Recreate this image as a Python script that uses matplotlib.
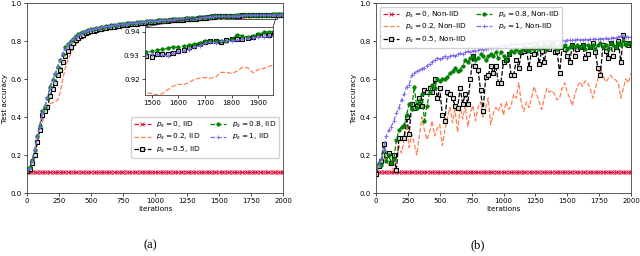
import matplotlib
matplotlib.use("Agg")
import matplotlib.pyplot as plt
from mpl_toolkits.axes_grid1.inset_locator import mark_inset

iterations = list(range(0, 2001, 20))

# ---------------- IID ----------------
acc_ps0_iid = [
    0.113, 0.113, 0.113, 0.113, 0.113, 0.113, 0.113, 0.113, 0.113, 0.113,
    0.113, 0.113, 0.113, 0.113, 0.113, 0.113, 0.113, 0.113, 0.113, 0.113,
    0.113, 0.113, 0.113, 0.113, 0.113, 0.113, 0.113, 0.113, 0.113, 0.113,
    0.113, 0.113, 0.113, 0.113, 0.113, 0.113, 0.113, 0.113, 0.113, 0.113,
    0.113, 0.113, 0.113, 0.113, 0.113, 0.113, 0.113, 0.113, 0.113, 0.113,
    0.113, 0.113, 0.113, 0.113, 0.113, 0.113, 0.113, 0.113, 0.113, 0.113,
    0.113, 0.113, 0.113, 0.113, 0.113, 0.113, 0.113, 0.113, 0.113, 0.113,
    0.113, 0.113, 0.113, 0.113, 0.113, 0.113, 0.113, 0.113, 0.113, 0.113,
    0.113, 0.113, 0.113, 0.113, 0.113, 0.113, 0.113, 0.113, 0.113, 0.113,
    0.113, 0.113, 0.113, 0.113, 0.113, 0.113, 0.113, 0.113, 0.113, 0.113,
    0.113]

acc_ps02_iid = [
    0.110, 0.120, 0.140, 0.190, 0.260, 0.320, 0.370, 0.420, 0.450, 0.470,
    0.475, 0.480, 0.490, 0.530, 0.600, 0.660, 0.700, 0.730, 0.760, 0.780,
    0.795, 0.808, 0.818, 0.826, 0.833, 0.838,
    0.842, 0.845, 0.848, 0.851, 0.854, 0.857, 0.859, 0.861, 0.863, 0.865,
    0.867, 0.869, 0.871, 0.873, 0.875, 0.876, 0.878, 0.879, 0.881, 0.882,
    0.884, 0.885, 0.886, 0.888, 0.889, 0.890, 0.891, 0.892, 0.893, 0.894,
    0.895, 0.896, 0.897, 0.898, 0.899, 0.900, 0.901, 0.902, 0.903, 0.904,
    0.905, 0.906, 0.907, 0.908, 0.909, 0.910, 0.911, 0.913,
    0.9144, 0.9142, 0.9135, 0.9140, 0.9157, 0.9172, 0.9180, 0.9178, 0.9188,
    0.9200, 0.9206, 0.9208, 0.9205, 0.9210, 0.9230, 0.9230, 0.9225, 0.9235,
    0.9250, 0.9250, 0.9228, 0.9242, 0.9246, 0.9255, 0.9262, 0.9265, 0.9268]

acc_ps05_iid = [
    0.115, 0.125, 0.160, 0.200, 0.270, 0.330, 0.410, 0.430, 0.455, 0.510,
    0.545, 0.580, 0.620, 0.650, 0.690, 0.720, 0.750, 0.770, 0.790, 0.805,
    0.815, 0.825, 0.833, 0.840, 0.846, 0.851,
    0.855, 0.858, 0.861, 0.864, 0.867, 0.870, 0.872, 0.874, 0.876, 0.878,
    0.880, 0.882, 0.884, 0.886, 0.888, 0.889, 0.891, 0.892, 0.894, 0.895,
    0.897, 0.898, 0.899, 0.901, 0.902, 0.903, 0.904, 0.905, 0.906, 0.907,
    0.908, 0.909, 0.910, 0.911, 0.912, 0.913, 0.914, 0.915, 0.916, 0.917,
    0.918, 0.919, 0.920, 0.921, 0.922, 0.924, 0.925, 0.927,
    0.9300, 0.9295, 0.9305, 0.9306, 0.9306, 0.9310, 0.9318, 0.9322, 0.9338,
    0.9342, 0.9348, 0.9358, 0.9360, 0.9362, 0.9358, 0.9365, 0.9368, 0.9368,
    0.9370, 0.9373, 0.9378, 0.9385, 0.9388, 0.9385, 0.9390, 0.9392, 0.9393]

acc_ps08_iid = [
    0.125, 0.135, 0.175, 0.225, 0.300, 0.355, 0.430, 0.455, 0.500, 0.560,
    0.595, 0.625, 0.665, 0.700, 0.730, 0.770, 0.785, 0.800, 0.812, 0.825,
    0.836, 0.842, 0.848, 0.852, 0.857, 0.861,
    0.864, 0.867, 0.870, 0.873, 0.876, 0.878, 0.880, 0.882, 0.884, 0.886,
    0.888, 0.890, 0.891, 0.893, 0.894, 0.896, 0.897, 0.898, 0.900, 0.901,
    0.902, 0.904, 0.905, 0.906, 0.907, 0.908, 0.909, 0.910, 0.911, 0.912,
    0.913, 0.914, 0.915, 0.916, 0.917, 0.918, 0.919, 0.920, 0.921, 0.922,
    0.923, 0.924, 0.925, 0.926, 0.927, 0.928, 0.929, 0.930,
    0.9314, 0.9318, 0.9323, 0.9326, 0.9330, 0.9337, 0.9336, 0.9340, 0.9345,
    0.9348, 0.9353, 0.9360, 0.9362, 0.9362, 0.9360, 0.9362, 0.9368, 0.9388,
    0.9383, 0.9378, 0.9382, 0.9390, 0.9398, 0.9400, 0.9402, 0.9403, 0.9405]

acc_ps1_iid = [
    0.120, 0.130, 0.170, 0.230, 0.290, 0.350, 0.420, 0.460, 0.505, 0.550,
    0.590, 0.630, 0.670, 0.700, 0.735, 0.760, 0.780, 0.795, 0.810, 0.820,
    0.830, 0.838, 0.845, 0.851, 0.856, 0.860,
    0.863, 0.866, 0.869, 0.872, 0.874, 0.877, 0.879, 0.881, 0.883, 0.885,
    0.887, 0.889, 0.890, 0.892, 0.893, 0.895, 0.896, 0.897, 0.899, 0.900,
    0.901, 0.903, 0.904, 0.905, 0.906, 0.907, 0.908, 0.909, 0.910, 0.911,
    0.912, 0.913, 0.914, 0.915, 0.916, 0.917, 0.918, 0.919, 0.920, 0.921,
    0.922, 0.923, 0.924, 0.925, 0.926, 0.927, 0.928, 0.929,
    0.9303, 0.9305, 0.9305, 0.9302, 0.9300, 0.9310, 0.9315, 0.9318, 0.9325,
    0.9335, 0.9340, 0.9352, 0.9358, 0.9355, 0.9360, 0.9362, 0.9363, 0.9365,
    0.9368, 0.9372, 0.9375, 0.9380, 0.9378, 0.9383, 0.9384, 0.9386, 0.9388]

# ---------------- Non-IID ----------------
acc_ps0_niid = list(acc_ps0_iid)

acc_ps02_niid = [
    0.10, 0.14, 0.17, 0.19, 0.16, 0.15, 0.14, 0.12, 0.18, 0.25,
    0.21, 0.28, 0.36, 0.24, 0.31, 0.26, 0.20, 0.30, 0.40, 0.33,
    0.28, 0.32, 0.38, 0.30, 0.34, 0.36, 0.25, 0.33, 0.40, 0.45,
    0.37, 0.44, 0.32, 0.45, 0.39, 0.46, 0.35, 0.42, 0.46, 0.38,
    0.45, 0.48, 0.40, 0.45, 0.50, 0.36, 0.42, 0.45, 0.43, 0.47,
    0.41, 0.48, 0.44, 0.46, 0.52, 0.50, 0.58, 0.47, 0.43, 0.48,
    0.45, 0.50, 0.56, 0.52, 0.48, 0.44, 0.50, 0.55, 0.53, 0.54,
    0.52, 0.49, 0.50, 0.55, 0.58, 0.53, 0.50, 0.46, 0.52, 0.56,
    0.585, 0.56, 0.59, 0.58, 0.55, 0.50, 0.55, 0.60, 0.65, 0.62,
    0.585, 0.60, 0.62, 0.60, 0.595, 0.58, 0.50, 0.55, 0.60, 0.58,
    0.63]

acc_ps05_niid = [
    0.10, 0.14, 0.17, 0.26, 0.20, 0.21, 0.16, 0.20, 0.12, 0.29,
    0.29, 0.29, 0.40, 0.31, 0.47, 0.45, 0.46, 0.50, 0.46, 0.54,
    0.53, 0.55, 0.53, 0.60, 0.50, 0.55, 0.41, 0.38, 0.53, 0.52,
    0.50, 0.46, 0.45, 0.55, 0.47, 0.52, 0.47, 0.60, 0.72, 0.67,
    0.65, 0.54, 0.43, 0.61, 0.62, 0.67, 0.63, 0.67, 0.58, 0.58,
    0.69, 0.70, 0.73, 0.62, 0.62, 0.70, 0.66, 0.74, 0.75, 0.76,
    0.66, 0.75, 0.73, 0.77, 0.68, 0.75, 0.69, 0.77, 0.76, 0.78,
    0.74, 0.75, 0.63, 0.77, 0.76, 0.72, 0.69, 0.78, 0.72, 0.76,
    0.77, 0.78, 0.71, 0.73, 0.77, 0.79, 0.74, 0.66, 0.62, 0.78,
    0.75, 0.71, 0.79, 0.72, 0.77, 0.80, 0.69, 0.83, 0.79, 0.78,
    0.79]

acc_ps08_niid = [
    0.13, 0.16, 0.15, 0.22, 0.17, 0.20, 0.16, 0.18, 0.28, 0.33,
    0.35, 0.36, 0.41, 0.47, 0.44, 0.56, 0.45, 0.48, 0.52, 0.38,
    0.46, 0.53, 0.57, 0.55, 0.60, 0.59, 0.60, 0.60, 0.61, 0.63,
    0.64, 0.66, 0.64, 0.65, 0.67, 0.70, 0.69, 0.71, 0.72, 0.70,
    0.71, 0.73, 0.72, 0.70, 0.72, 0.73, 0.72, 0.74, 0.71, 0.74,
    0.72, 0.70, 0.73, 0.75, 0.74, 0.76, 0.74, 0.75, 0.77, 0.76,
    0.75, 0.77, 0.76, 0.78, 0.76, 0.77, 0.78, 0.76, 0.77, 0.78,
    0.77, 0.76, 0.78, 0.77, 0.78, 0.76, 0.77, 0.78, 0.77, 0.78,
    0.77, 0.78, 0.76, 0.78, 0.77, 0.78, 0.76, 0.78, 0.79, 0.77,
    0.78, 0.76, 0.79, 0.78, 0.77, 0.79, 0.78, 0.80, 0.78, 0.79,
    0.79]

acc_ps1_niid = [
    0.120, 0.150, 0.180, 0.220, 0.300, 0.330, 0.350, 0.380, 0.420, 0.450,
    0.490, 0.520, 0.560, 0.570, 0.620, 0.630, 0.640, 0.645, 0.655, 0.660,
    0.670, 0.680, 0.690, 0.700, 0.710, 0.705, 0.710, 0.720, 0.712, 0.720,
    0.725, 0.720, 0.730, 0.735, 0.730, 0.740, 0.745, 0.740, 0.750, 0.748,
    0.752, 0.758, 0.755, 0.760, 0.765, 0.762, 0.768, 0.770, 0.766, 0.774,
    0.777, 0.772, 0.778, 0.782, 0.779, 0.784, 0.786, 0.782, 0.788, 0.790,
    0.786, 0.792, 0.795, 0.791, 0.796, 0.798, 0.794, 0.799, 0.801, 0.797,
    0.800, 0.803, 0.799, 0.804, 0.802, 0.805, 0.803, 0.806, 0.804, 0.808,
    0.805, 0.807, 0.809, 0.806, 0.810, 0.808, 0.811, 0.809, 0.813, 0.812,
    0.815, 0.812, 0.816, 0.818, 0.815, 0.822, 0.825, 0.828, 0.820, 0.822,
    0.821]

ps_values = ["0", "0.2", "0.5", "0.8", "1"]
iid_series = [acc_ps0_iid, acc_ps02_iid, acc_ps05_iid, acc_ps08_iid, acc_ps1_iid]
niid_series = [acc_ps0_niid, acc_ps02_niid, acc_ps05_niid, acc_ps08_niid, acc_ps1_niid]

for s in iid_series + niid_series:
    assert len(s) == len(iterations), len(s)

styles = [
    dict(color="crimson", marker="x", ms=2.2, mew=0.6),
    dict(color="coral", marker=None),
    dict(color="black", marker="s", ms=2.8, mfc="0.85", mew=0.8),
    dict(color="green", marker="o", ms=2.5, mew=0.5),
    dict(color="mediumslateblue", marker="+", ms=2.8, mew=0.6),
]

plt.rcParams["font.family"] = "DejaVu Sans"
fig = plt.figure(figsize=(6.4, 2.56), dpi=100)
ax1 = fig.add_axes([27 / 640, 63 / 256, 256 / 640, 190 / 256])
ax2 = fig.add_axes([376 / 640, 63 / 256, 255 / 640, 190 / 256])


def style_axis(ax, fs=5.0):
    ax.tick_params(labelsize=fs, length=2, width=0.5, pad=1.8)
    for sp in ax.spines.values():
        sp.set_linewidth(0.6)
        sp.set_color("0.25")


for ax, series, tag in [(ax1, iid_series, "IID"), (ax2, niid_series, "Non-IID")]:
    for p, ys, st in zip(ps_values, series, styles):
        ax.plot(iterations, ys, linestyle="--", lw=0.9,
                label=r"$p_s=%s$, %s" % (p, tag), **st)
    ax.set_xlim(0, 2000)
    ax.set_ylim(0, 1.0)
    ax.set_xticks([0, 250, 500, 750, 1000, 1250, 1500, 1750, 2000])
    ax.set_yticks([0.0, 0.2, 0.4, 0.6, 0.8, 1.0])
    ax.set_xlabel("Iterations", fontsize=5.2, labelpad=1.5)
    ax.set_ylabel("Test accuracy", fontsize=5.2, labelpad=2)
    style_axis(ax)

ax1.legend(loc="lower right", bbox_to_anchor=(1.0, 0.166), ncol=2, fontsize=5.3,
           handlelength=2.2, columnspacing=1.2, labelspacing=0.3,
           borderpad=0.4, framealpha=0.9)
ax2.legend(loc="upper left", ncol=2, fontsize=5.3, handlelength=2.2,
           columnspacing=1.2, labelspacing=0.3, borderpad=0.4, framealpha=0.9)

# inset
axins = fig.add_axes([145 / 640, (256 - 95) / 256, 128 / 640, 68 / 256])
for ys, st in zip(iid_series[1:], styles[1:]):
    axins.plot(iterations, ys, linestyle="--", lw=0.9, **st)
axins.set_xlim(1475, 1955)
axins.set_ylim(0.9135, 0.942)
axins.set_xticks([1500, 1600, 1700, 1800, 1900])
axins.set_yticks([0.92, 0.93, 0.94])
style_axis(axins)
mark_inset(ax1, axins, loc1=2, loc2=1, fc="none", ec="0.2", lw=0.6)

fig.text(150 / 640, 1 - 245 / 256, "(a)", ha="center", va="center",
         fontsize=9, family="Liberation Serif")
fig.text(478 / 640, 1 - 245 / 256, "(b)", ha="center", va="center",
         fontsize=9, family="Liberation Serif")

fig.savefig("out.png", dpi=100)
